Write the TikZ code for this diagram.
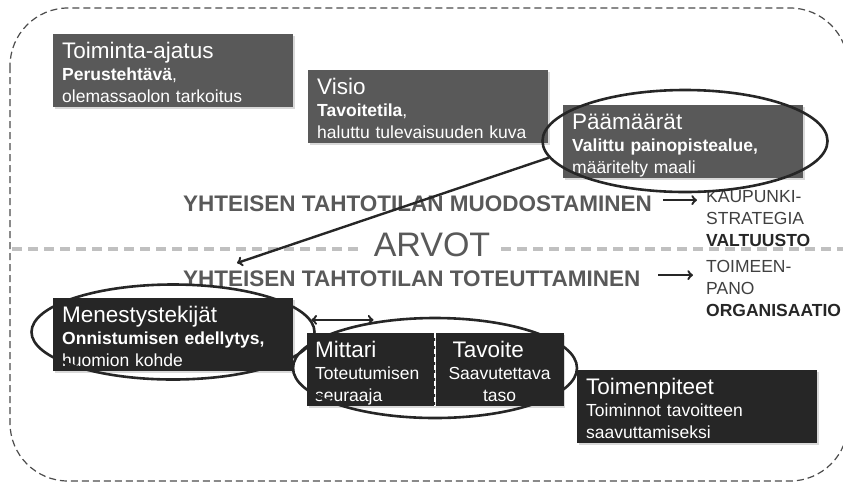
\documentclass[tikz,border=0pt]{standalone}
\usepackage{fontspec}
\setmainfont{Liberation Sans}
\usetikzlibrary{shapes.geometric, shadows}

\definecolor{topgray}{RGB}{89,89,89}
\definecolor{botgray}{RGB}{38,38,38}
\definecolor{linegray}{RGB}{192,192,192}
\definecolor{textgray}{RGB}{89,89,89}

\newcommand{\boxtitle}[1]{{\fontsize{22.5}{22}\selectfont\rule{0pt}{24pt}#1}}

\begin{document}
\begin{tikzpicture}[x=1pt, y=-1pt,
	box/.style={fill=topgray, text=white, anchor=north west, minimum width=240pt, minimum height=71pt, text width=222pt, inner xsep=9pt, inner ysep=0pt, align=left, font=\fontsize{17.5}{22}\selectfont, execute at end node=\rule[-5pt]{0pt}{5pt}, drop shadow={shadow xshift=1.5pt, shadow yshift=-1.5pt, opacity=0.3}},
	darkbox/.style={box, fill=botgray},
	ring/.style={ellipse, draw=black!85, line width=2.6pt, inner sep=0pt},
	arr/.style={->, line width=2.4pt, draw=black!85},
	headline/.style={anchor=base west, inner sep=0pt, text height=22pt, text=textgray, font=\fontsize{22.5}{22}\selectfont\bfseries},
	sidetext/.style={anchor=north west, inner sep=0pt, align=left, text=black!75, font=\fontsize{17.5}{22}\selectfont}]
	%\draw[help lines] (0,0) grid (843,483);
	\useasboundingbox (0,0) rectangle (843,483);
	
	\draw [dashed, dash pattern=on 7pt off 4pt, draw=black!70, line width=1.2pt, rounded corners=58pt] (10,8) rectangle (848,481);
	
	% arvot
	\node [inner xsep=11pt, inner ysep=0pt, text=textgray, font=\fontsize{34}{34}\selectfont] (arvot) at (432,245) {ARVOT};
	\draw [linegray, line width=3.5pt, dash pattern=on 10pt off 6pt] (12,249) -- (arvot.west |- 0,249);
	\draw [linegray, line width=3.5pt, dash pattern=on 10pt off 6pt] (arvot.east |- 0,249) -- (843,249);
	
	% boxes
	\node [box] (toiminta) at (53,34) {\boxtitle{Toiminta-ajatus}\\ \textbf{Perustehtävä},\\ olemassaolon tarkoitus};
	\node [box] (visio) at (308,70) {\boxtitle{Visio}\\ \textbf{Tavoitetila},\\ haluttu tulevaisuuden kuva};
	\node [box] (paamaarat) at (563,105) {\boxtitle{Päämäärät}\\ \textbf{Valittu painopistealue,}\\ määritelty maali};
	\node [darkbox] (menestys) at (53,298) {\boxtitle{Menestystekijät}\\ \textbf{Onnistumisen edellytys,}\\ huomion kohde};
	\node [darkbox, minimum width=128pt, text width=112pt, inner xsep=8pt, minimum height=72pt] (mittari) at (307,333) {\boxtitle{Mittari}\\ Toteutumisen\\ seuraaja};
	\node [darkbox, minimum width=128pt, text width=112pt, inner xsep=8pt, minimum height=72pt, align=center] (tavoite) at (mittari.north east) {\hspace*{9pt}\boxtitle{Tavoite}\hfill\mbox{}\\ Saavutettava\\ taso};
	\draw [white, line width=2pt, dash pattern=on 5pt off 3pt] (mittari.north east) -- (mittari.south east);
	\node [darkbox] (toimenpiteet) at (577,370) {\boxtitle{Toimenpiteet}\\ Toiminnot tavoitteen\\ saavuttamiseksi};
	
	% tahtotila
	\node [headline] (muodostus) at (183,211) {YHTEISEN TAHTOTILAN MUODOSTAMINEN};
	\node [headline] (toteutus) at (183,286) {YHTEISEN TAHTOTILAN TOTEUTTAMINEN};
	\node [sidetext] (kaupunki) at (706,190.5) {KAUPUNKI-\\ STRATEGIA\\ \textbf{\color{black!85}VALTUUSTO}};
	\node [sidetext] (toimeenpano) at (706,260.5) {TOIMEEN-\\ PANO\\ \textbf{\color{black!85}ORGANISAATIO}};
	\draw [arr, shorten <=11pt, shorten >=9pt] (muodostus.east) -- (muodostus.east -| kaupunki.west);
	\draw [arr, shorten <=18pt, shorten >=13pt] (toteutus.east) -- (toteutus.east -| toimeenpano.west);
	
	% ellipses
	\node [ring, minimum width=285pt, minimum height=102pt] (ringP) at (685,141) {};
	\node [ring, minimum width=283pt, minimum height=95pt] (ringM) at (173,332) {};
	\node [ring, minimum width=284pt, minimum height=100pt] (ringT) at (435,368) {};
	
	\coordinate (aim) at (237,263);
	\draw [arr] (ringP.187) -- (aim);
	\draw [arr, <->] (ringM.5) -- (ringM.5 -| ringT.143);
	
\end{tikzpicture}
\end{document}
